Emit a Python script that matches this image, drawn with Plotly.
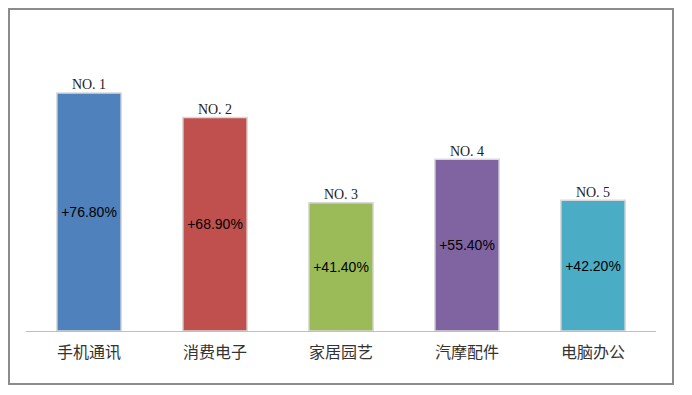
import plotly.graph_objects as go

categories = ["手机通讯", "消费电子", "家居园艺", "汽摩配件", "电脑办公"]
growth = [76.8, 68.9, 41.4, 55.4, 42.2]
rank_labels = ["NO. 1", "NO. 2", "NO. 3", "NO. 4", "NO. 5"]
colors = ["#4F81BD", "#C0504D", "#9BBB59", "#8064A2", "#4BACC6"]

pct_text = ["+%.2f%%" % v for v in growth]

L, T, R, B = 18, 44, 44, 72
W, H = 692, 395
pw, ph = W - L - R, H - T - B

fig = go.Figure()
fig.add_trace(go.Bar(
    x=categories, y=growth, width=0.51,
    marker=dict(color=colors, line=dict(color="#d9d9d9", width=1.5)),
    text=pct_text, textposition="inside", insidetextanchor="middle",
    textangle=0, constraintext="none",
    insidetextfont=dict(color="#000000", size=14, family="Liberation Sans, Noto Sans"),
    hoverinfo="skip",
))
fig.add_trace(go.Scatter(
    x=categories, y=growth, mode="text", text=rank_labels,
    textposition="top center",
    textfont=dict(color="#222222", size=14, family="Liberation Serif, DejaVu Serif"),
    hoverinfo="skip",
))

fig.update_layout(
    width=W, height=H,
    margin=dict(l=L, r=R, t=T, b=B),
    paper_bgcolor="white", plot_bgcolor="white",
    showlegend=False,
    xaxis=dict(showline=True, linecolor="#bfbfbf", linewidth=1, ticks="",
               tickfont=dict(size=16, color="#333333", family="Noto Sans CJK SC"),
               ticklabelstandoff=7,
               showgrid=False, fixedrange=True),
    yaxis=dict(range=[0, 90], visible=False, showgrid=False, fixedrange=True),
    shapes=[dict(type="rect", xref="paper", yref="paper",
                 x0=(1 - L) / pw, x1=(665 - L) / pw,
                 y0=-(376 - (T + ph)) / ph, y1=((T + ph) - 1) / ph,
                 line=dict(color="#8c8c8c", width=2))],
)

fig.write_html("out.html")
